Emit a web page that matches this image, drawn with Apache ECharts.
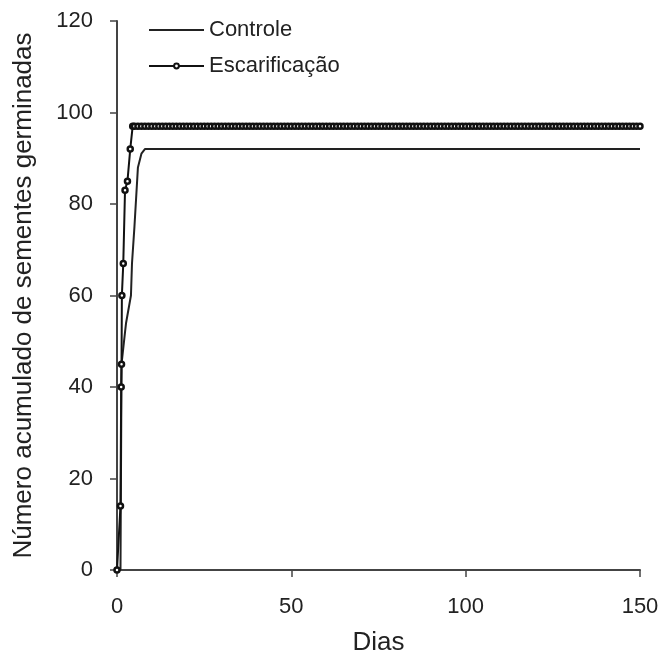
<!DOCTYPE html>
<html>
<head>
<meta charset="utf-8">
<script src="https://cdn.jsdelivr.net/npm/echarts@6/dist/echarts.min.js"></script>
<style>html,body{margin:0;padding:0;background:#fff}#c{width:662px;height:657px}</style>
</head>
<body>
<div id="c"></div>
<script>
const xTicks = [0, 50, 100, 150];
const yTicks = [0, 20, 40, 60, 80, 100, 120];

const controleDias = [0, 1, 1.3, 2.3, 2.6, 4, 4.3, 5, 6, 7, 8, 150];
const controleValores = [0, 0, 45, 52, 54, 60, 67, 75, 88, 91, 92, 92];

const escarDias = [0, 1, 1.2, 1.3, 1.4, 1.8, 2.3, 3, 3.8, 4.5,
  5,6,7,8,9,10,11,12,13,14,15,16,17,18,19,20,21,22,23,24,25,26,27,28,29,30,
  31,32,33,34,35,36,37,38,39,40,41,42,43,44,45,46,47,48,49,50,51,52,53,54,55,
  56,57,58,59,60,61,62,63,64,65,66,67,68,69,70,71,72,73,74,75,76,77,78,79,80,
  81,82,83,84,85,86,87,88,89,90,91,92,93,94,95,96,97,98,99,100,101,102,103,104,105,
  106,107,108,109,110,111,112,113,114,115,116,117,118,119,120,121,122,123,124,125,
  126,127,128,129,130,131,132,133,134,135,136,137,138,139,140,141,142,143,144,145,
  146,147,148,149,150];
const escarValores = [0, 14, 40, 45, 60, 67, 83, 85, 92, 97,
  97,97,97,97,97,97,97,97,97,97,97,97,97,97,97,97,97,97,97,97,97,97,97,97,97,97,
  97,97,97,97,97,97,97,97,97,97,97,97,97,97,97,97,97,97,97,97,97,97,97,97,97,
  97,97,97,97,97,97,97,97,97,97,97,97,97,97,97,97,97,97,97,97,97,97,97,97,97,
  97,97,97,97,97,97,97,97,97,97,97,97,97,97,97,97,97,97,97,97,97,97,97,97,97,
  97,97,97,97,97,97,97,97,97,97,97,97,97,97,97,97,97,97,97,97,97,97,97,97,97,
  97,97,97,97,97,97,97,97,97,97,97,97,97,97,97,97,97,97,97,97,97,97,97,97,97,
  97,97,97,97,97];

const FONT = 'Liberation Sans, Arial, sans-serif';
const chart = echarts.init(document.getElementById('c'));
function axisBase() {
  return {
    axisLine: {show: true, onZero: false, lineStyle: {color: '#444', width: 2}},
    axisTick: {show: true, length: 7, inside: false, lineStyle: {color: '#444', width: 1.5}},
    splitLine: {show: false},
    nameTextStyle: {color: '#222', fontSize: 26, fontFamily: FONT}
  };
}
chart.setOption({
  animation: false,
  backgroundColor: '#fff',
  grid: {left: 117, right: 22, top: 21, bottom: 87, containLabel: false, outerBoundsMode: 'none'},
  legend: {
    left: 148, top: 19, padding: 0, orient: 'vertical', itemWidth: 55, itemHeight: 6, itemGap: 14,
    textStyle: {color: '#222', fontSize: 22, fontFamily: FONT},
    data: [{name: 'Controle', itemStyle: {opacity: 0}}, {name: 'Escarificação'}]
  },
  xAxis: Object.assign(axisBase(), {
    type: 'value', position: 'bottom', min: xTicks[0], max: xTicks[xTicks.length - 1], interval: 50,
    name: 'Dias', nameLocation: 'middle', nameGap: 60,
    axisLabel: {color: '#222', fontSize: 22, fontFamily: FONT, margin: 26}
  }),
  yAxis: Object.assign(axisBase(), {
    type: 'value', position: 'left', min: yTicks[0], max: yTicks[yTicks.length - 1], interval: 20,
    name: 'Número acumulado de sementes germinadas', nameLocation: 'middle', nameGap: 80,
    axisLabel: {color: '#222', fontSize: 22, fontFamily: FONT, margin: 24}
  }),
  series: [
    {
      name: 'Controle', type: 'line', symbol: 'none',
      lineStyle: {color: '#222', width: 2},
      itemStyle: {color: '#222'},
      data: controleDias.map((d, i) => [d, controleValores[i]])
    },
    {
      name: 'Escarificação', type: 'line', symbol: 'circle', symbolSize: 5, showAllSymbol: true,
      lineStyle: {color: '#111', width: 2},
      itemStyle: {color: '#fff', borderColor: '#111', borderWidth: 2.5},
      data: escarDias.map((d, i) => [d, escarValores[i]])
    }
  ]
});
</script>
</body>
</html>
